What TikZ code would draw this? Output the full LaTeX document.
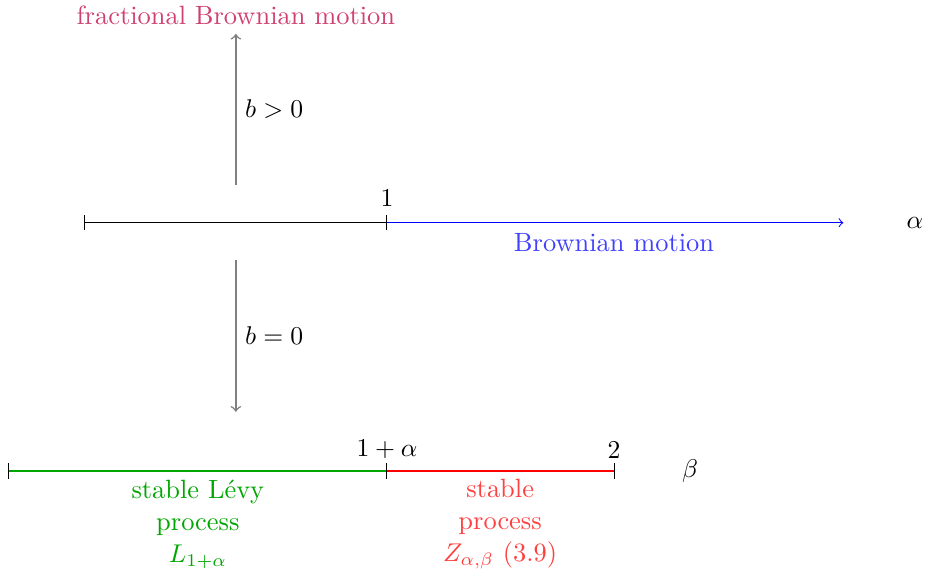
\documentclass[tikz,border=0pt]{standalone}
\usepackage{amsmath,amssymb}
\usepackage{tikz}
\usetikzlibrary{positioning}
\usepackage{xcolor}

\begin{document}
\begin{tikzpicture}[
    every node/.style={font=\fontsize{10.3}{12.4}\selectfont},
    tickmark/.style={black, thin},
    regime/.style={align=center},
    move/.style={->, semithick, gray}
]
    \useasboundingbox (0,0) rectangle (12.71,7.85);

    % Upper axis (alpha)
    \coordinate (a0) at (1.16,4.80);
    \coordinate (a1) at (5.30,4.80);
    \coordinate (a2) at (11.55,4.80);
    \draw[black, thin] (a0) -- (a1);
    \draw[->, blue] (a1) -- (a2);
    \node[above=6pt of a1, inner sep=0pt] (one) {$1$};
    \node (alpha) at (12.53,4.80) {$\alpha$};
    \node[blue!75] (bm) at (8.41,4.53) {Brownian motion};

    % b > 0 : fractional Brownian motion
    \coordinate (up0) at (3.23,5.32);
    \node[purple!75] (fbm) at (3.23,7.64) {fractional Brownian motion};
    \draw[move] (up0) -- (fbm.south) node[midway, right, black] (bpos) {$b>0$};

    % b = 0 : lower axis
    \coordinate (dn0) at (3.23,4.29);
    \coordinate (dn1) at (3.23,2.21);
    \draw[move] (dn0) -- (dn1) node[midway, right, black] (bzero) {$b=0$};

    % Lower axis (beta)
    \coordinate (b0) at (0.11,1.40);
    \coordinate (b1) at (5.30,1.40);
    \coordinate (b2) at (8.41,1.40);
    \draw[green!65!black, line width=1.1pt] (b0) -- (b1);
    \draw[red, line width=1.1pt] (b1) -- (b2);
    \node[above=4.5pt of b1, inner sep=0pt] (onealpha) {$1+\alpha$};
    \node[above=4.5pt of b2, inner sep=0pt] (two) {$2$};
    \node (beta) at (9.45,1.40) {$\beta$};

    % Ticks
    \foreach \p in {a0,a1,b0,b1,b2}
        \draw[tickmark] ([yshift=-3pt]\p) -- ([yshift=3pt]\p);

    % Regimes
    \node[regime, green!65!black] (levy) at (2.71,0.67) {stable L\'evy\\process\\$L_{1+\alpha}$};
    \node[regime, red!75] (zab) at (6.85,0.67) {stable\\process\\$Z_{\alpha,\beta}$ (3.9)};
\end{tikzpicture}
\end{document}
